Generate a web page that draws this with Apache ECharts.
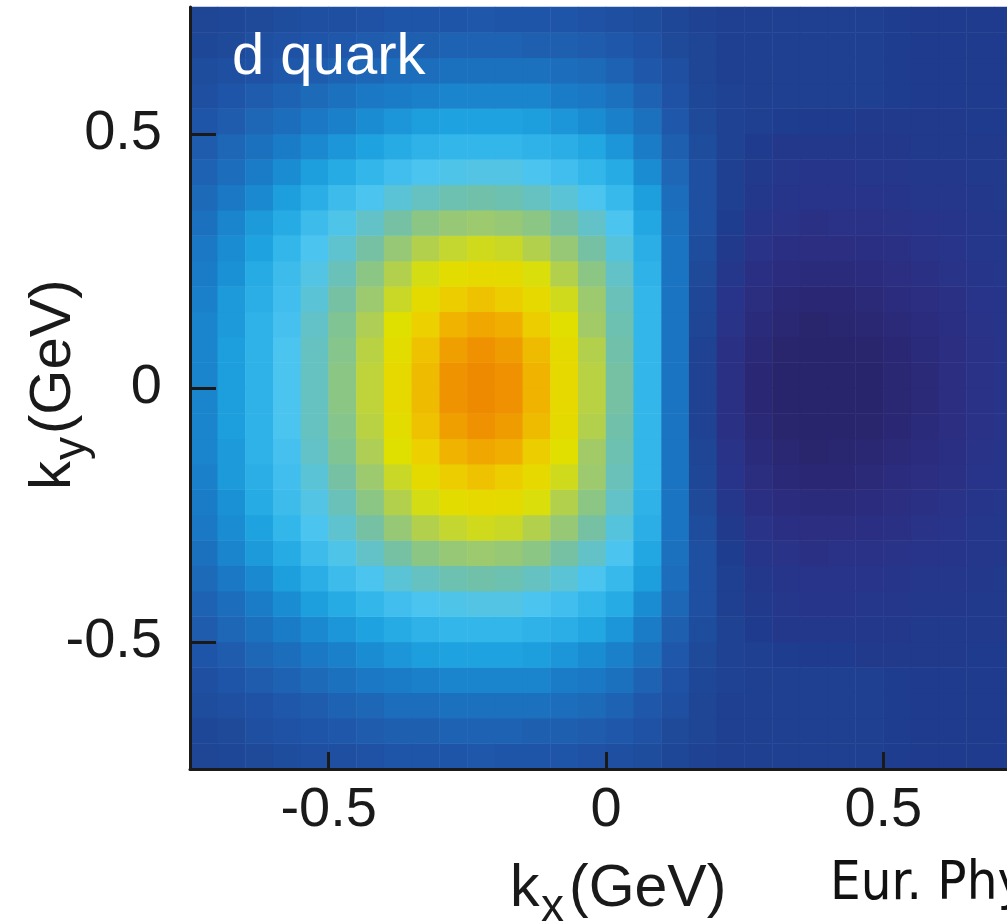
<!DOCTYPE html>
<html>
<head>
<meta charset="utf-8">
<script src="https://cdn.jsdelivr.net/npm/echarts@6/dist/echarts.min.js"></script>
<style>
  html, body { margin: 0; padding: 0; background: #ffffff; overflow: hidden; }
  /* the plot frame runs on past the right edge of the window, so the drawing surface is wider */
  #chart { width: 1030px; height: 923px; }
</style>
</head>
<body>
<div id="chart"></div>
<script>
// Cell centres of the transverse-momentum grid (GeV), 0.05 GeV spacing
const kxCenters = [-0.725, -0.675, -0.625, -0.575, -0.525, -0.475, -0.425, -0.375, -0.325, -0.275,
                   -0.225, -0.175, -0.125, -0.075, -0.025, 0.025, 0.075, 0.125, 0.175, 0.225,
                   0.275, 0.325, 0.375, 0.425, 0.475, 0.525, 0.575, 0.625, 0.675, 0.725];
const kyCenters = [-0.725, -0.675, -0.625, -0.575, -0.525, -0.475, -0.425, -0.375, -0.325, -0.275,
                   -0.225, -0.175, -0.125, -0.075, -0.025, 0.025, 0.075, 0.125, 0.175, 0.225,
                   0.275, 0.325, 0.375, 0.425, 0.475, 0.525, 0.575, 0.625, 0.675, 0.725];

// Axis ticks and labels
const kxTicks = [-0.5, 0, 0.5];
const kyTicks = [-0.5, 0, 0.5];

// d-quark density in the (kx, ky) plane, one row per ky centre (bottom row first),
// each row running from kx = -0.725 to kx = 0.725
const density = [
  [0.04,0.05,0.06,0.07,0.08,0.08,0.09,0.10,0.10,0.10,0.11,0.10,0.10,0.10,0.09,0.08,0.07,0.05,0.03,0.02,0.02,0.02,0.02,0.02,0.02,0.01,0.00,0.00,0.00,0.00],
  [0.05,0.06,0.08,0.09,0.10,0.11,0.12,0.13,0.13,0.14,0.14,0.14,0.13,0.13,0.12,0.11,0.09,0.06,0.04,0.02,0.02,0.02,0.02,0.02,0.02,0.01,0.00,0.00,0.00,0.00],
  [0.07,0.08,0.09,0.11,0.12,0.14,0.15,0.17,0.17,0.18,0.18,0.18,0.18,0.17,0.16,0.14,0.11,0.08,0.04,0.02,0.02,0.02,0.02,0.02,0.02,0.01,0.00,0.00,0.00,0.00],
  [0.08,0.10,0.12,0.14,0.16,0.18,0.20,0.21,0.22,0.23,0.23,0.23,0.23,0.21,0.20,0.18,0.14,0.09,0.05,0.03,0.02,0.02,0.02,0.02,0.02,0.01,0.00,0.00,0.00,0.00],
  [0.10,0.12,0.15,0.17,0.20,0.22,0.25,0.27,0.29,0.30,0.30,0.30,0.29,0.27,0.25,0.22,0.18,0.11,0.06,0.03,0.02,0.01,0.00,0.00,-0.01,-0.01,-0.01,-0.01,0.00,0.00],
  [0.12,0.15,0.18,0.21,0.24,0.27,0.30,0.32,0.34,0.35,0.35,0.35,0.34,0.33,0.31,0.27,0.21,0.13,0.07,0.03,0.00,-0.02,-0.02,-0.02,-0.02,-0.02,-0.01,-0.01,-0.01,-0.01],
  [0.14,0.17,0.21,0.25,0.29,0.32,0.35,0.38,0.40,0.41,0.42,0.42,0.40,0.38,0.35,0.32,0.25,0.15,0.08,0.02,-0.01,-0.03,-0.04,-0.04,-0.03,-0.03,-0.02,-0.02,-0.01,-0.01],
  [0.16,0.20,0.24,0.29,0.33,0.37,0.40,0.44,0.47,0.49,0.50,0.49,0.47,0.44,0.40,0.36,0.29,0.17,0.08,0.02,-0.02,-0.04,-0.05,-0.05,-0.05,-0.04,-0.03,-0.03,-0.02,-0.01],
  [0.18,0.23,0.28,0.32,0.37,0.41,0.46,0.51,0.55,0.57,0.58,0.57,0.55,0.51,0.46,0.40,0.31,0.18,0.08,0.01,-0.04,-0.06,-0.08,-0.07,-0.07,-0.06,-0.05,-0.04,-0.03,-0.02],
  [0.20,0.25,0.30,0.35,0.40,0.45,0.51,0.57,0.62,0.65,0.67,0.66,0.62,0.57,0.51,0.43,0.33,0.19,0.07,-0.01,-0.06,-0.09,-0.10,-0.10,-0.09,-0.08,-0.06,-0.05,-0.03,-0.02],
  [0.21,0.26,0.32,0.37,0.42,0.48,0.55,0.62,0.68,0.73,0.75,0.74,0.69,0.62,0.55,0.46,0.34,0.19,0.06,-0.03,-0.09,-0.12,-0.13,-0.13,-0.12,-0.10,-0.08,-0.06,-0.04,-0.03],
  [0.22,0.28,0.33,0.38,0.44,0.51,0.58,0.66,0.74,0.81,0.84,0.81,0.75,0.67,0.58,0.48,0.35,0.19,0.05,-0.05,-0.11,-0.15,-0.16,-0.16,-0.14,-0.12,-0.10,-0.08,-0.05,-0.04],
  [0.23,0.28,0.34,0.39,0.46,0.53,0.61,0.70,0.80,0.88,0.91,0.89,0.81,0.71,0.59,0.49,0.35,0.19,0.04,-0.06,-0.13,-0.17,-0.19,-0.18,-0.17,-0.14,-0.12,-0.09,-0.06,-0.04],
  [0.23,0.29,0.34,0.40,0.47,0.54,0.63,0.73,0.84,0.93,0.97,0.94,0.86,0.74,0.62,0.50,0.35,0.19,0.03,-0.08,-0.15,-0.19,-0.21,-0.20,-0.19,-0.16,-0.13,-0.10,-0.07,-0.05],
  [0.23,0.29,0.34,0.40,0.47,0.55,0.64,0.75,0.86,0.96,0.99,0.97,0.88,0.75,0.63,0.51,0.35,0.19,0.03,-0.08,-0.16,-0.20,-0.22,-0.21,-0.20,-0.17,-0.14,-0.10,-0.07,-0.05],
  [0.23,0.29,0.34,0.40,0.47,0.55,0.64,0.75,0.86,0.96,0.99,0.97,0.88,0.75,0.63,0.51,0.35,0.19,0.03,-0.08,-0.16,-0.20,-0.22,-0.21,-0.20,-0.17,-0.14,-0.10,-0.07,-0.05],
  [0.23,0.29,0.34,0.40,0.47,0.54,0.63,0.73,0.84,0.93,0.97,0.94,0.86,0.74,0.62,0.50,0.35,0.19,0.03,-0.08,-0.15,-0.19,-0.21,-0.20,-0.19,-0.16,-0.13,-0.10,-0.07,-0.05],
  [0.23,0.28,0.34,0.39,0.46,0.53,0.61,0.70,0.80,0.88,0.91,0.89,0.81,0.71,0.59,0.49,0.35,0.19,0.04,-0.06,-0.13,-0.17,-0.19,-0.18,-0.17,-0.14,-0.12,-0.09,-0.06,-0.04],
  [0.22,0.28,0.33,0.38,0.44,0.51,0.58,0.66,0.74,0.81,0.84,0.81,0.75,0.67,0.58,0.48,0.35,0.19,0.05,-0.05,-0.11,-0.15,-0.16,-0.16,-0.14,-0.12,-0.10,-0.08,-0.05,-0.04],
  [0.21,0.26,0.32,0.37,0.42,0.48,0.55,0.62,0.68,0.73,0.75,0.74,0.69,0.62,0.55,0.46,0.34,0.19,0.06,-0.03,-0.09,-0.12,-0.13,-0.13,-0.12,-0.10,-0.08,-0.06,-0.04,-0.03],
  [0.20,0.25,0.30,0.35,0.40,0.45,0.51,0.57,0.62,0.65,0.67,0.66,0.62,0.57,0.51,0.43,0.33,0.19,0.07,-0.01,-0.06,-0.09,-0.10,-0.10,-0.09,-0.08,-0.06,-0.05,-0.03,-0.02],
  [0.18,0.23,0.28,0.32,0.37,0.41,0.46,0.51,0.55,0.57,0.58,0.57,0.55,0.51,0.46,0.40,0.31,0.18,0.08,0.01,-0.04,-0.06,-0.08,-0.07,-0.07,-0.06,-0.05,-0.04,-0.03,-0.02],
  [0.16,0.20,0.24,0.29,0.33,0.37,0.40,0.44,0.47,0.49,0.50,0.49,0.47,0.44,0.40,0.36,0.29,0.17,0.08,0.02,-0.02,-0.04,-0.05,-0.05,-0.05,-0.04,-0.03,-0.03,-0.02,-0.01],
  [0.14,0.17,0.21,0.25,0.29,0.32,0.35,0.38,0.40,0.41,0.42,0.42,0.40,0.38,0.35,0.32,0.25,0.15,0.08,0.02,-0.01,-0.03,-0.04,-0.04,-0.03,-0.03,-0.02,-0.02,-0.01,-0.01],
  [0.12,0.15,0.18,0.21,0.24,0.27,0.30,0.32,0.34,0.35,0.35,0.35,0.34,0.33,0.31,0.27,0.21,0.13,0.07,0.03,0.00,-0.02,-0.02,-0.02,-0.02,-0.02,-0.01,-0.01,-0.01,-0.01],
  [0.10,0.12,0.15,0.17,0.20,0.22,0.25,0.27,0.29,0.30,0.30,0.30,0.29,0.27,0.25,0.22,0.18,0.11,0.06,0.03,0.02,0.01,0.00,0.00,-0.01,-0.01,-0.01,-0.01,0.00,0.00],
  [0.08,0.10,0.12,0.14,0.16,0.18,0.20,0.21,0.22,0.23,0.23,0.23,0.23,0.21,0.20,0.18,0.14,0.09,0.05,0.03,0.02,0.02,0.02,0.02,0.02,0.01,0.00,0.00,0.00,0.00],
  [0.07,0.08,0.09,0.11,0.12,0.14,0.15,0.17,0.17,0.18,0.18,0.18,0.18,0.17,0.16,0.14,0.11,0.08,0.04,0.02,0.02,0.02,0.02,0.02,0.02,0.01,0.00,0.00,0.00,0.00],
  [0.05,0.06,0.08,0.09,0.10,0.11,0.12,0.13,0.13,0.14,0.14,0.14,0.13,0.13,0.12,0.11,0.09,0.06,0.04,0.02,0.02,0.02,0.02,0.02,0.02,0.01,0.00,0.00,0.00,0.00],
  [0.04,0.05,0.06,0.07,0.08,0.08,0.09,0.10,0.10,0.10,0.11,0.10,0.10,0.10,0.09,0.08,0.07,0.05,0.03,0.02,0.02,0.02,0.02,0.02,0.02,0.01,0.00,0.00,0.00,0.00]
];

// Colour scale, evenly spaced from -0.2 (deepest depletion, indigo) through 0 (blue) to 1.0 (peak, orange)
const scaleMin = -0.2;
const scaleMax = 1.0;
const scaleColors = [
  '#29256c', '#2a2977', '#2b2e81', '#283489', '#1f3b8d', '#1f4797', '#1f55a8', '#1e66b6',
  '#1a78c4', '#1a8dd2', '#1fa3e0', '#33b6ea', '#4bc4f0', '#5ec3cf', '#70c0aa', '#8cc685',
  '#a8cc60', '#c4d630', '#dfe000', '#e6d900', '#ecd000', '#eebf00', '#f0ab00', '#ef9800', '#ee8600'
];

const cells = [];
density.forEach((row, j) => row.forEach((v, i) => cells.push([i, j, v])));

const ink = '#1a1a1a';
const sans = "'Liberation Sans', Arial, sans-serif";
const plotRect = { left: 190, top: 7, width: 832, height: 762 };

const chart = echarts.init(document.getElementById('chart'), null, { renderer: 'canvas' });

chart.setOption({
  animation: false,
  backgroundColor: '#ffffff',
  textStyle: { fontFamily: sans },
  grid: [
    Object.assign({}, plotRect),
    Object.assign({}, plotRect)
  ],
  visualMap: {
    show: false,
    type: 'continuous',
    seriesIndex: 0,
    dimension: 2,
    min: scaleMin,
    max: scaleMax,
    inRange: { color: scaleColors }
  },
  xAxis: [
    { type: 'category', gridIndex: 0, data: kxCenters.map(String), show: false },
    {
      type: 'value', gridIndex: 1, min: -0.75, max: 0.75, z: 10,
      axisLine: { show: true, onZero: false, lineStyle: { color: ink, width: 3 } },
      axisTick: { show: true, inside: true, length: 17, customValues: kxTicks, lineStyle: { color: ink, width: 3 } },
      axisLabel: { show: true, customValues: kxTicks, margin: 14, fontSize: 56, color: ink, fontFamily: sans },
      splitLine: { show: false }
    }
  ],
  yAxis: [
    { type: 'category', gridIndex: 0, data: kyCenters.map(String), show: false },
    {
      type: 'value', gridIndex: 1, min: -0.75, max: 0.75, z: 10,
      axisLine: { show: true, onZero: false, lineStyle: { color: ink, width: 3 } },
      axisTick: { show: true, inside: true, length: 26, customValues: kyTicks, lineStyle: { color: ink, width: 3 } },
      axisLabel: { show: true, customValues: kyTicks, margin: 28, fontSize: 56, color: ink, fontFamily: sans },
      splitLine: { show: false }
    }
  ],
  series: [{
    type: 'heatmap',
    xAxisIndex: 0,
    yAxisIndex: 0,
    data: cells,
    silent: true,
    progressive: 0,
    itemStyle: { borderWidth: 0 },
    emphasis: { disabled: true }
  }],
  graphic: [
    {
      type: 'text', x: 232, y: 58, z: 100,
      style: { text: 'd quark', fill: '#ffffff', font: '58px ' + sans, verticalAlign: 'middle', align: 'left' }
    },
    {
      // horizontal axis title k_x(GeV)
      type: 'group', x: 510, y: 908, z: 100,
      children: [
        { type: 'text', x: 0, y: -18, style: { text: 'k', fill: ink, font: '59px ' + sans, verticalAlign: 'middle' } },
        { type: 'text', x: 31, y: 0, style: { text: 'x', fill: ink, font: '46px ' + sans, verticalAlign: 'middle' } },
        { type: 'text', x: 59, y: -18, style: { text: '(GeV)', fill: ink, font: '59px ' + sans, verticalAlign: 'middle' } }
      ]
    },
    {
      // vertical axis title k_y(GeV), reading bottom to top
      type: 'group', x: 72, y: 490, rotation: Math.PI / 2, z: 100,
      children: [
        { type: 'text', x: 0, y: -18, style: { text: 'k', fill: ink, font: '58px ' + sans, verticalAlign: 'middle' } },
        { type: 'text', x: 30, y: 0, style: { text: 'y', fill: ink, font: '46px ' + sans, verticalAlign: 'middle' } },
        { type: 'text', x: 56, y: -18, style: { text: '(GeV)', fill: ink, font: '58px ' + sans, verticalAlign: 'middle' } }
      ]
    },
    {
      type: 'text', x: 830, y: 885, z: 100,
      style: {
        text: 'Eur. Phys. J. C',
        fill: '#111111',
        font: "54px 'Liberation Sans Narrow', 'DejaVu Sans Condensed', sans-serif",
        verticalAlign: 'middle'
      }
    }
  ]
});
</script>
</body>
</html>
